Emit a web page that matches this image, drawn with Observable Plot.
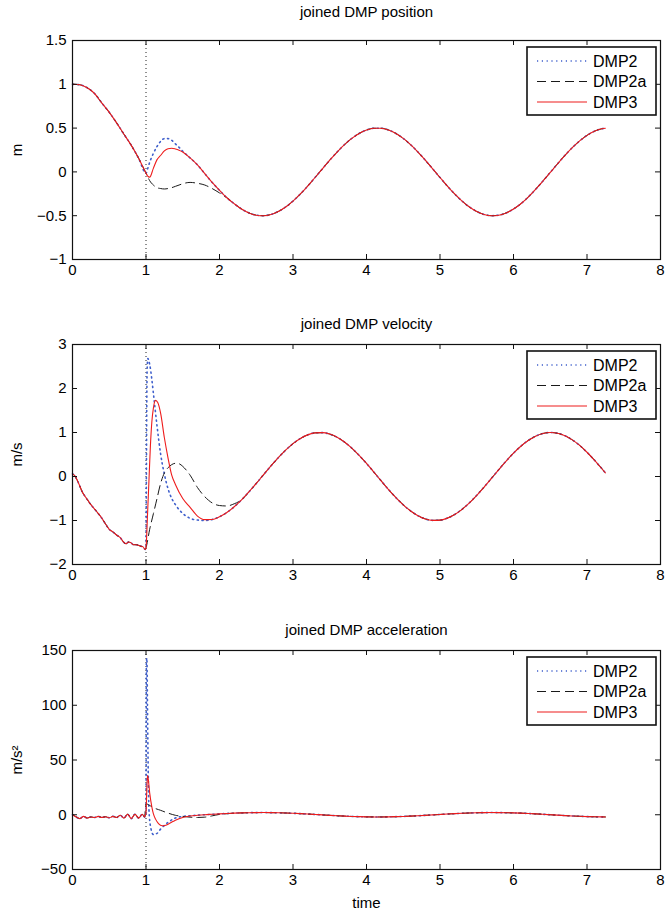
<!DOCTYPE html>
<html>
<head>
<meta charset="utf-8">
<script src="https://cdn.jsdelivr.net/npm/d3@7"></script>
<script src="https://cdn.jsdelivr.net/npm/@observablehq/plot@0.6"></script>
<style>
  html, body { margin: 0; padding: 0; background: #fff; }
  #root { position: relative; width: 667px; height: 912px; overflow: hidden; }
  #root svg { position: absolute; left: 0; }
</style>
</head>
<body>
<div id="root"></div>
<script>
// ---------------- DATA ----------------
const seriesNames = ["DMP2", "DMP2a", "DMP3"];
const xTicks = [0, 1, 2, 3, 4, 5, 6, 7, 8];
const posTicks = [-1, -0.5, 0, 0.5, 1, 1.5];
const velTicks = [-2, -1, 0, 1, 2, 3];
const accTicks = [-50, 0, 50, 100, 150];
const switchTime = 1.0;

// shared tail (all three series coincide after ~2.3 s)
const tailTime = [2.3,2.4,2.5,2.6,2.7,2.8,2.9,3.0,3.1,3.2,3.3,3.4,3.5,3.6,3.7,3.8,3.9,4.0,4.1,4.2,4.3,4.4,4.5,4.6,4.7,4.8,4.9,5.0,5.1,5.2,5.3,5.4,5.5,5.6,5.7,5.8,5.9,6.0,6.1,6.2,6.3,6.4,6.5,6.6,6.7,6.8,6.9,7.0,7.1,7.2,7.25];
const tailPos = [-0.424,-0.468,-0.494,-0.500,-0.486,-0.452,-0.401,-0.333,-0.252,-0.162,-0.064,0.035,0.134,0.227,0.311,0.382,0.439,0.478,0.498,0.498,0.478,0.439,0.382,0.311,0.227,0.134,0.035,-0.064,-0.162,-0.252,-0.333,-0.401,-0.452,-0.486,-0.500,-0.494,-0.468,-0.424,-0.363,-0.287,-0.200,-0.105,-0.006,0.093,0.189,0.277,0.354,0.417,0.464,0.492,0.498];
const tailVel = [-0.530,-0.351,-0.158,0.042,0.239,0.427,0.598,0.746,0.863,0.946,0.992,0.997,0.964,0.891,0.783,0.644,0.479,0.296,0.100,-0.100,-0.296,-0.479,-0.644,-0.783,-0.891,-0.964,-0.997,-0.992,-0.946,-0.863,-0.746,-0.598,-0.427,-0.239,-0.042,0.158,0.351,0.530,0.688,0.818,0.916,0.978,1.000,0.982,0.926,0.832,0.706,0.551,0.374,0.182,0.083];
const tailAcc = [1.696,1.873,1.975,1.998,1.942,1.808,1.602,1.333,1.010,0.647,0.258,-0.141,-0.535,-0.907,-1.243,-1.530,-1.755,-1.911,-1.990,-1.990,-1.911,-1.755,-1.530,-1.243,-0.907,-0.535,-0.141,0.258,0.647,1.010,1.333,1.602,1.808,1.942,1.998,1.975,1.873,1.696,1.452,1.150,0.802,0.422,0.025,-0.373,-0.756,-1.109,-1.417,-1.669,-1.855,-1.967,-1.993];

// ---- position ----
const posEarlyTime = [0,0.1,0.2,0.3,0.4,0.5,0.6,0.7,0.8,0.9,1.0];
const posEarly = [1.0,0.995,0.96,0.895,0.785,0.68,0.56,0.43,0.303,0.155,-0.015];
const posTransTime = [1.02,1.05,1.1,1.15,1.2,1.25,1.3,1.35,1.4,1.45,1.5,1.6,1.7,1.8,1.9,2.0,2.1,2.2];
const posDMP2 = [0.03,0.11,0.21,0.29,0.35,0.38,0.38,0.36,0.32,0.28,0.235,0.16,0.08,-0.02,-0.12,-0.21,-0.295,-0.363];
const posDMP2a = [-0.05,-0.10,-0.15,-0.18,-0.19,-0.195,-0.19,-0.18,-0.165,-0.15,-0.135,-0.12,-0.13,-0.15,-0.19,-0.24,-0.295,-0.363];
const posDMP3 = [-0.045,-0.06,0.04,0.14,0.19,0.24,0.265,0.27,0.262,0.248,0.227,0.16,0.08,-0.02,-0.12,-0.21,-0.295,-0.363];

// ---- velocity ----
const velEarlyTime = [0,0.03,0.06,0.1,0.13,0.17,0.2,0.25,0.3,0.35,0.4,0.45,0.5,0.55,0.6,0.65,0.7,0.73,0.76,0.79,0.83,0.87,0.92,0.96,0.99,1.0];
const velEarly = [0.06,0.02,-0.07,-0.22,-0.34,-0.45,-0.52,-0.64,-0.74,-0.84,-0.95,-1.08,-1.2,-1.26,-1.33,-1.39,-1.5,-1.53,-1.49,-1.5,-1.55,-1.55,-1.58,-1.6,-1.66,-1.62];
const velDMP2Time = [1.005,1.01,1.015,1.025,1.05,1.08,1.1,1.15,1.2,1.25,1.3,1.35,1.4,1.5,1.6,1.7,1.8,1.9,2.0,2.1,2.2];
const velDMP2 = [0.0,1.5,2.4,2.68,2.55,2.2,1.9,1.15,0.5,0.05,-0.28,-0.5,-0.64,-0.84,-0.95,-0.99,-1.0,-0.978,-0.916,-0.818,-0.688];
const velDMP2aTime = [1.05,1.1,1.15,1.2,1.25,1.3,1.35,1.4,1.45,1.5,1.6,1.7,1.8,1.9,2.0,2.1,2.2];
const velDMP2a = [-1.2,-0.85,-0.5,-0.15,0.08,0.2,0.27,0.3,0.29,0.23,0.03,-0.25,-0.46,-0.6,-0.66,-0.67,-0.62];
const velDMP3Time = [1.02,1.04,1.06,1.08,1.1,1.13,1.16,1.2,1.25,1.3,1.35,1.4,1.5,1.6,1.7,1.8,1.9,2.0,2.1,2.2];
const velDMP3 = [-0.9,-0.1,0.7,1.25,1.55,1.73,1.68,1.43,0.88,0.42,0.03,-0.18,-0.5,-0.7,-0.9,-0.98,-0.978,-0.916,-0.818,-0.688];

// ---- acceleration ----
const accEarlyTime = [0,0.05,0.1,0.15,0.2,0.25,0.3,0.35,0.4,0.45,0.5,0.55,0.6,0.65,0.7,0.75,0.8,0.85,0.9,0.95,0.98];
const accEarly = [0,-2,-3.5,-1.5,-3,-2,-2.5,-1.5,-2.5,-1.8,-2.8,-1.5,-2.5,-0.5,-3,0.5,-3.5,0.5,-3,0.5,-2];
const accDMP2Time = [1.0,1.005,1.012,1.02,1.03,1.04,1.06,1.1,1.15,1.2,1.3,1.4,1.5,1.6,1.7,1.8,1.9,2.0,2.1,2.2];
const accDMP2 = [0,140,143,100,40,5,-10,-18,-17,-13,-7,-3,-1.5,-0.9,-0.4,0.03,0.42,0.8,1.15,1.45];
const accDMP2aTime = [1.0,1.05,1.1,1.2,1.3,1.4,1.5,1.6,1.7,1.8,1.9,2.0,2.1,2.2];
const accDMP2a = [10,8.5,6.5,4,1.5,-0.5,-1.5,-2.2,-2.5,-2.2,-1,0.3,0.9,1.45];
const accDMP3Time = [1.0,1.01,1.02,1.03,1.05,1.08,1.1,1.13,1.17,1.22,1.27,1.33,1.4,1.5,1.6,1.7,1.8,1.9,2.0,2.1,2.2];
const accDMP3 = [2,20,36,33,20,7,1,-4,-8,-10,-9.5,-7.5,-5,-2.5,-1.2,-0.5,0.03,0.42,0.8,1.15,1.45];

// ---------------- BUILD ----------------
const W = 667, marginLeft = 72, marginRight = 7;
const innerW = W - marginLeft - marginRight;
const FONT = "'Liberation Sans', Arial, Helvetica, sans-serif";
const styles = {
  DMP2:  {stroke: "#3f5fcc", strokeWidth: 1.6, strokeDasharray: "1.2,3.6"},
  DMP2a: {stroke: "#1a1a1a", strokeWidth: 1, strokeDasharray: "9,5"},
  DMP3:  {stroke: "#ee1c1c", strokeWidth: 1.1, strokeDasharray: null}
};
const fmt = d => d < 0 ? "\u2212" + Math.abs(d) : String(d);

function rows(pairs) {
  const out = [];
  for (const [ts, vs] of pairs) ts.forEach((t, i) => out.push({t, v: vs[i]}));
  return out;
}

function panel({top, height, marginTop, marginBottom, yDomain, yTicks, title, titleDy, ylabel, xlabel, series}) {
  const innerH = height - marginTop - marginBottom;
  const marks = [
    Plot.ruleX([switchTime], {stroke: "#222", strokeWidth: 1, strokeDasharray: "1,3"})
  ];
  for (const name of seriesNames) {
    const s = styles[name];
    marks.push(Plot.line(series[name], {x: "t", y: "v", curve: "monotone-x",
      stroke: s.stroke, strokeWidth: s.strokeWidth, strokeDasharray: s.strokeDasharray}));
  }
  marks.push(
    Plot.frame({stroke: "#111", strokeWidth: 1.2}),
    Plot.tickX(xTicks, {x: d => d, insetTop: innerH - 5, stroke: "#111"}),
    Plot.tickX(xTicks, {x: d => d, insetBottom: innerH - 5, stroke: "#111"}),
    Plot.tickY(yTicks, {y: d => d, insetRight: innerW - 5, stroke: "#111"}),
    Plot.tickY(yTicks, {y: d => d, insetLeft: innerW - 5, stroke: "#111"}),
    Plot.axisX(xTicks, {tickSize: 0, tickPadding: 5, label: null, tickFormat: fmt, fontSize: 15, fill: "#000"}),
    Plot.axisY(yTicks, {tickSize: 0, tickPadding: 6, label: null, tickFormat: fmt, fontSize: 15, fill: "#000"}),
    Plot.text([title], {frameAnchor: "top", lineAnchor: "middle", dy: titleDy, fontSize: 15, fill: "#000"}),
    Plot.text([ylabel], {frameAnchor: "left", textAnchor: "middle", lineAnchor: "middle", dx: -55, rotate: -90, fontSize: 15, fill: "#000"})
  );
  if (xlabel) marks.push(Plot.text([xlabel], {frameAnchor: "bottom", lineAnchor: "middle", dy: 34, fontSize: 15, fill: "#000"}));
  const svg = Plot.plot({
    width: W, height, marginLeft, marginRight, marginTop, marginBottom,
    x: {domain: [0, 8]},
    y: {domain: yDomain},
    style: {fontFamily: FONT, fontSize: "15px", background: "transparent", color: "#000"},
    marks
  });
  svg.style.top = top + "px";
  // legend box (top-right inside the frame)
  const lg = d3.select(svg).append("g")
    .attr("transform", `translate(${W - marginRight - 133},${marginTop + 7})`);
  lg.append("rect").attr("width", 129).attr("height", 68)
    .attr("fill", "white").attr("stroke", "#111").attr("stroke-width", 1.6);
  seriesNames.forEach((name, i) => {
    const y = 14 + i * 20.5;
    const s = styles[name];
    lg.append("line").attr("x1", 10).attr("x2", 60).attr("y1", y).attr("y2", y)
      .attr("stroke", s.stroke).attr("stroke-width", s.strokeWidth)
      .attr("stroke-dasharray", s.strokeDasharray);
    lg.append("text").attr("x", 66).attr("y", y).attr("dy", "0.36em")
      .attr("text-anchor", "start").attr("font-family", FONT)
      .attr("font-size", 16).attr("fill", "#000").text(name);
  });
  return svg;
}

const root = document.getElementById("root");
root.append(panel({
  top: 0, height: 306, marginTop: 40, marginBottom: 47, titleDy: -28,
  yDomain: [-1, 1.5], yTicks: posTicks, title: "joined DMP position", ylabel: "m",
  series: {
    DMP2: rows([[posEarlyTime, posEarly], [posTransTime, posDMP2], [tailTime, tailPos]]),
    DMP2a: rows([[posEarlyTime, posEarly], [posTransTime, posDMP2a], [tailTime, tailPos]]),
    DMP3: rows([[posEarlyTime, posEarly], [posTransTime, posDMP3], [tailTime, tailPos]])
  }
}));
root.append(panel({
  top: 306, height: 306, marginTop: 38, marginBottom: 48, titleDy: -20,
  yDomain: [-2, 3], yTicks: velTicks, title: "joined DMP velocity", ylabel: "m/s",
  series: {
    DMP2: rows([[velEarlyTime, velEarly], [velDMP2Time, velDMP2], [tailTime, tailVel]]),
    DMP2a: rows([[velEarlyTime, velEarly], [velDMP2aTime, velDMP2a], [tailTime, tailVel]]),
    DMP3: rows([[velEarlyTime, velEarly], [velDMP3Time, velDMP3], [tailTime, tailVel]])
  }
}));
root.append(panel({
  top: 612, height: 300, marginTop: 38, marginBottom: 43, titleDy: -20,
  yDomain: [-50, 150], yTicks: accTicks, title: "joined DMP acceleration", ylabel: "m/s\u00b2", xlabel: "time",
  series: {
    DMP2: rows([[accEarlyTime, accEarly], [accDMP2Time, accDMP2], [tailTime, tailAcc]]),
    DMP2a: rows([[accEarlyTime, accEarly], [accDMP2aTime, accDMP2a], [tailTime, tailAcc]]),
    DMP3: rows([[accEarlyTime, accEarly], [accDMP3Time, accDMP3], [tailTime, tailAcc]])
  }
}));
</script>
</body>
</html>
